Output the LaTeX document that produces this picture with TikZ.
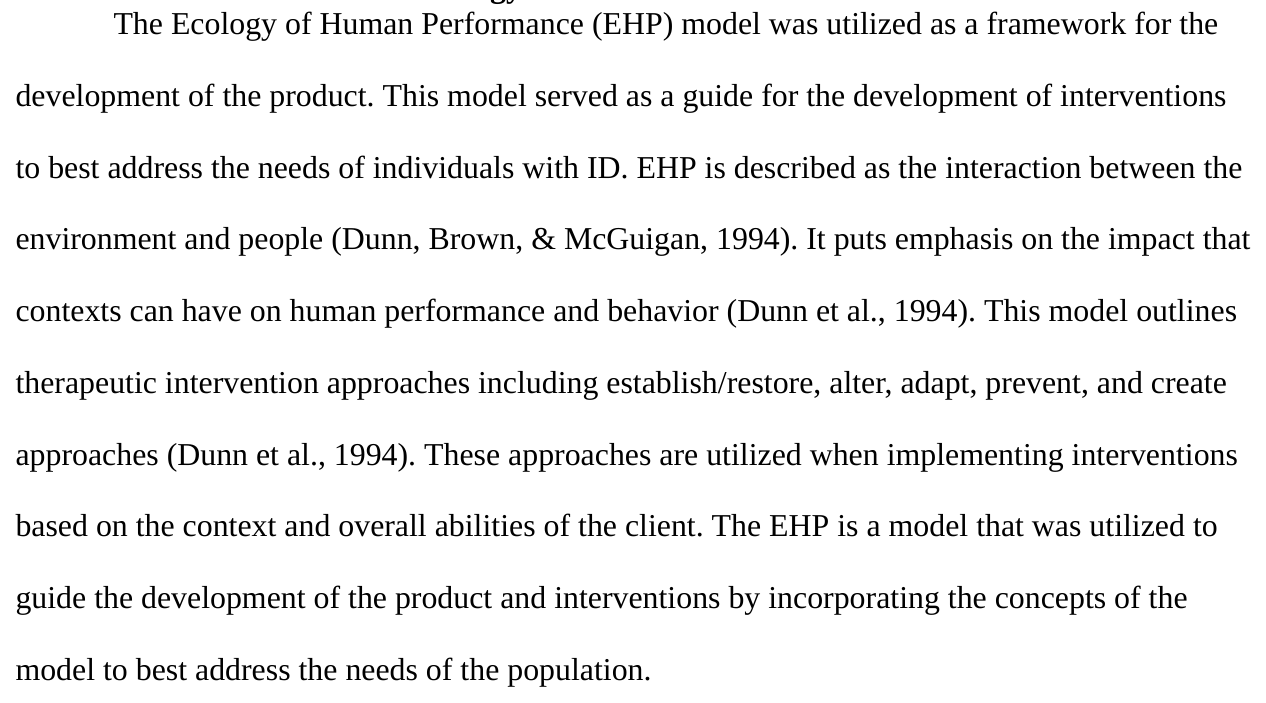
\documentclass[tikz,border=0pt]{standalone}
\usepackage{fontspec}
\setmainfont{Liberation Serif}
\usepackage{tikz}
\frenchspacing

\tikzset{
    bodyline/.style={anchor=base west, inner sep=0pt, font=\fontsize{12.25}{14}\selectfont},
    headline/.style={anchor=base, inner sep=0pt, font=\fontsize{12.25}{14}\selectfont\bfseries}
}

\begin{document}
\begin{tikzpicture}[x=0.3846pt, y=-0.3846pt]
        \useasboundingbox (0,0) rectangle (1266,703);
        \clip (0,0) rectangle (1266,703);
        \fill[white] (0,0) rectangle (1266,703);
        \node[headline] (head) at (633,-2.5) {Ecology of Human Performance};
        \node[bodyline] (l1) at (113,35) {The Ecology of Human Performance (EHP) model was utilized as a framework for the};
        \node[bodyline] (l2) at (15,106.7) {development of the product. This model served as a guide for the development of interventions};
        \node[bodyline] (l3) at (15,178.3) {to best address the needs of individuals with ID. EHP is described as the interaction between the};
        \node[bodyline] (l4) at (15,250) {environment and people (Dunn, Brown, \& McGuigan, 1994). It puts emphasis on the impact that};
        \node[bodyline] (l5) at (15,321.7) {contexts can have on human performance and behavior (Dunn et al., 1994). This model outlines};
        \node[bodyline] (l6) at (15,393.3) {therapeutic intervention approaches including establish/restore, alter, adapt, prevent, and create};
        \node[bodyline] (l7) at (15,465) {approaches (Dunn et al., 1994). These approaches are utilized when implementing interventions};
        \node[bodyline] (l8) at (15,536.7) {based on the context and overall abilities of the client. The EHP is a model that was utilized to};
        \node[bodyline] (l9) at (15,608.3) {guide the development of the product and interventions by incorporating the concepts of the};
        \node[bodyline] (l10) at (15,680) {model to best address the needs of the population.};
    \end{tikzpicture}
\end{document}
